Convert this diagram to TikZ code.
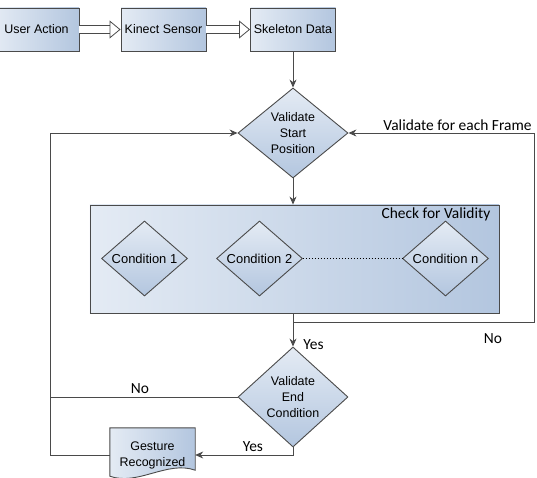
\documentclass[tikz,border=0pt]{standalone}
\usepackage{fontspec}
\setmainfont{Liberation Sans}
\newfontfamily\calfont{Carlito}
\usetikzlibrary{shapes.geometric,arrows.meta,backgrounds}
\definecolor{paleblue}{HTML}{E4EBF4}
\definecolor{steelblue}{HTML}{B3C6DF}
\definecolor{edgegray}{HTML}{4A4A4A}

\begin{document}
\begin{tikzpicture}[x=1bp,y=-1bp,
>={Stealth[length=8pt,width=7pt]},
box/.style={draw=edgegray,line width=0.9pt,left color=paleblue,right color=steelblue,
  minimum width=85bp,minimum height=43bp,inner sep=0pt,font=\fontsize{12.5}{15}\selectfont},
decision/.style={diamond,draw=edgegray,line width=0.9pt,top color=paleblue,bottom color=steelblue,
  minimum width=110bp,minimum height=94bp,inner sep=0pt,align=center,font=\fontsize{12.5}{16}\selectfont},
condition/.style={decision,minimum width=86bp,minimum height=71bp,font=\fontsize{13}{15}\selectfont},
link/.style={draw=edgegray,line width=0.9pt},
hollow/.style={draw=edgegray,line width=0.8pt,double=white,double distance=7.5pt,
  -{Triangle[open,length=11pt,width=18pt]}},
tag/.style={font=\calfont\fontsize{15.5}{17}\selectfont,inner sep=1pt}
]

\useasboundingbox (0,0) rectangle (537,478);

\node[box]
(ua)
at (36.5,29.5)
{User Action};

\node[box]
(ks)
at (163.5,29.5)
{Kinect Sensor};

\node[box]
(sd)
at (293,29.5)
{Skeleton Data};

\node[decision,minimum height=90bp]
(vs)
at (293,133)
{Validate\\Start\\Position};

\node[box,minimum width=409bp,minimum height=108bp]
(cv)
at (294.5,259)
{};

\node[tag,anchor=north east]
(cvtitle)
at ([xshift=-8bp,yshift=-2bp]cv.north east)
{Check for Validity};

\node[condition]
(c1)
at (144.5,258.5)
{Condition 1};

\node[condition]
(c2)
at (259.5,258.5)
{Condition 2};

\node[condition]
(cn)
at (445.5,258.5)
{Condition n};

\node[decision,minimum height=100bp]
(ve)
at (293,397)
{Validate\\End\\Condition};

\node[inner sep=0pt,minimum width=85bp,minimum height=54bp,align=center,
  font=\fontsize{12.5}{16}\selectfont]
(gr)
at (152.5,455)
{Gesture\\Recognized};

\begin{scope}[on background layer]
\draw[edgegray,line width=0.9pt,left color=paleblue,right color=steelblue]
(gr.north west) -- (gr.north east) -- ([yshift=12bp]gr.south east)
.. controls ([xshift=-28bp,yshift=22bp]gr.south east) and ([xshift=28bp,yshift=-4bp]gr.south west) ..
([yshift=6bp]gr.south west) -- cycle;
\end{scope}

\coordinate (frame) at (534,322);
\coordinate (back) at (50,455);

\draw[hollow]
(ua)--(ks);

\draw[hollow]
(ks)--(sd);

\draw[link,->]
(sd)--(vs);

\draw[link,->]
(vs)--(vs.south |- cv.north);

\draw[line width=1.5pt,dash pattern=on 1.5pt off 1.5pt]
(c2)--(cn);

\draw[link,->]
(ve.north |- cv.south)--(ve.north)
node[tag,pos=0.94,anchor=west,xshift=9bp] (yestop) {Yes};

\draw[link,->]
(ve.north |- frame)--(frame)
node[tag,pos=0.83,anchor=north,yshift=-10bp] (noright) {No}
--(frame |- vs.east)--(vs.east)
node[tag,pos=0,anchor=south east,xshift=-1bp,yshift=1bp] (eachframe) {Validate for each Frame};

\draw[link]
(ve.west)--(ve.west -| back)
node[tag,pos=0.52,anchor=south,yshift=2bp] (noleft) {No};

\draw[link,->]
(ve.south)--(ve.south |- gr.east)--(gr.east)
node[tag,pos=0.41,anchor=south,yshift=2bp] (yesbottom) {Yes};

\draw[link,->]
(gr.west)--(back)--(back |- vs.west)--(vs.west);

\end{tikzpicture}
\end{document}
